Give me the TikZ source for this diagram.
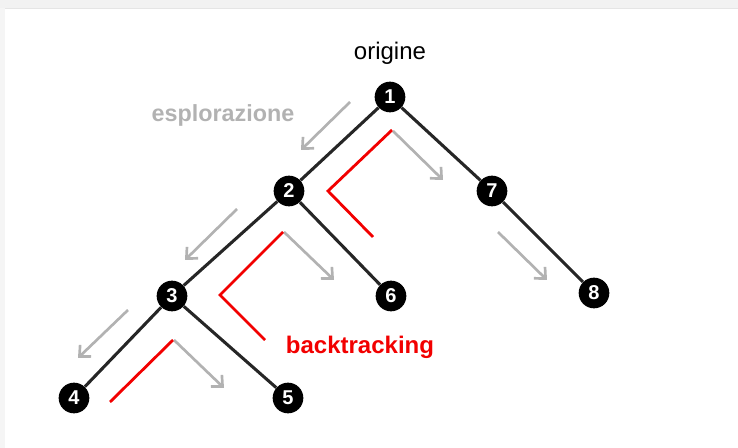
\documentclass[tikz,border=0pt]{standalone}
\usepackage{fontspec}
\setmainfont{Liberation Sans}
\usetikzlibrary{arrows.meta}

\begin{document}
\begin{tikzpicture}[x=0.75pt,y=-0.75pt,
    vertex/.style={circle,fill=black,text=white,font=\bfseries\fontsize{15}{15}\selectfont,
      minimum size=23pt,inner sep=0pt},
    edge/.style={line width=2.3pt,draw=black!85},
    explore/.style={line width=2pt,draw=black!30,-{Straight Barb[length=6.5pt,width=12pt]}},
    back/.style={line width=2.1pt,draw=red!95!black,line join=miter}]
  \useasboundingbox (0,0) rectangle (738,448);
  % window frame
  \fill[black!5] (0,0) rectangle (738,8);
  \fill[black!4] (0,8) rectangle (5,448);
  \draw[black!10,line width=1pt] (5,8.5) -- (738,8.5);

  % the tree
  \node[vertex] (n1) at (390,97) {1};
  \node[vertex] (n2) at (289,191) {2};
  \node[vertex] (n7) at (492,191) {7};
  \node[vertex] (n3) at (172,296) {3};
  \node[vertex] (n6) at (391,296) {6};
  \node[vertex] (n8) at (594,293) {8};
  \node[vertex] (n4) at (74,398) {4};
  \node[vertex] (n5) at (288,398) {5};
  \draw[edge] (n1) -- (n2);
  \draw[edge] (n1) -- (n7);
  \draw[edge] (n2) -- (n3);
  \draw[edge] (n2) -- (n6);
  \draw[edge] (n7) -- (n8);
  \draw[edge] (n3) -- (n4);
  \draw[edge] (n3) -- (n5);

  % labels
  \node[font=\fontsize{18}{18}\selectfont] (orig) at (390,53) {origine};
  \node[font=\bfseries\fontsize{17.5}{18}\selectfont,text=black!30] (expl) at (223,115) {esplorazione};
  \node[font=\bfseries\fontsize{18}{18}\selectfont,text=red!95!black] (btrk) at (360,347) {backtracking};

  % going down
  \draw[explore] (350,102) -- (301,150);
  \draw[explore] (237,209) -- (185,260);
  \draw[explore] (128,310) -- (78,358);
  \draw[explore] (393,131) -- (443,180);
  \draw[explore] (284,232) -- (334,280);
  \draw[explore] (174,340) -- (224,388);
  \draw[explore] (498,232) -- (547,280);

  % going back up
  \draw[back] (392,130) -- (328,191) -- (373,237);
  \draw[back] (283,232) -- (220,295) -- (265,340);
  \draw[back] (173,340) -- (110,402);
\end{tikzpicture}
\end{document}
